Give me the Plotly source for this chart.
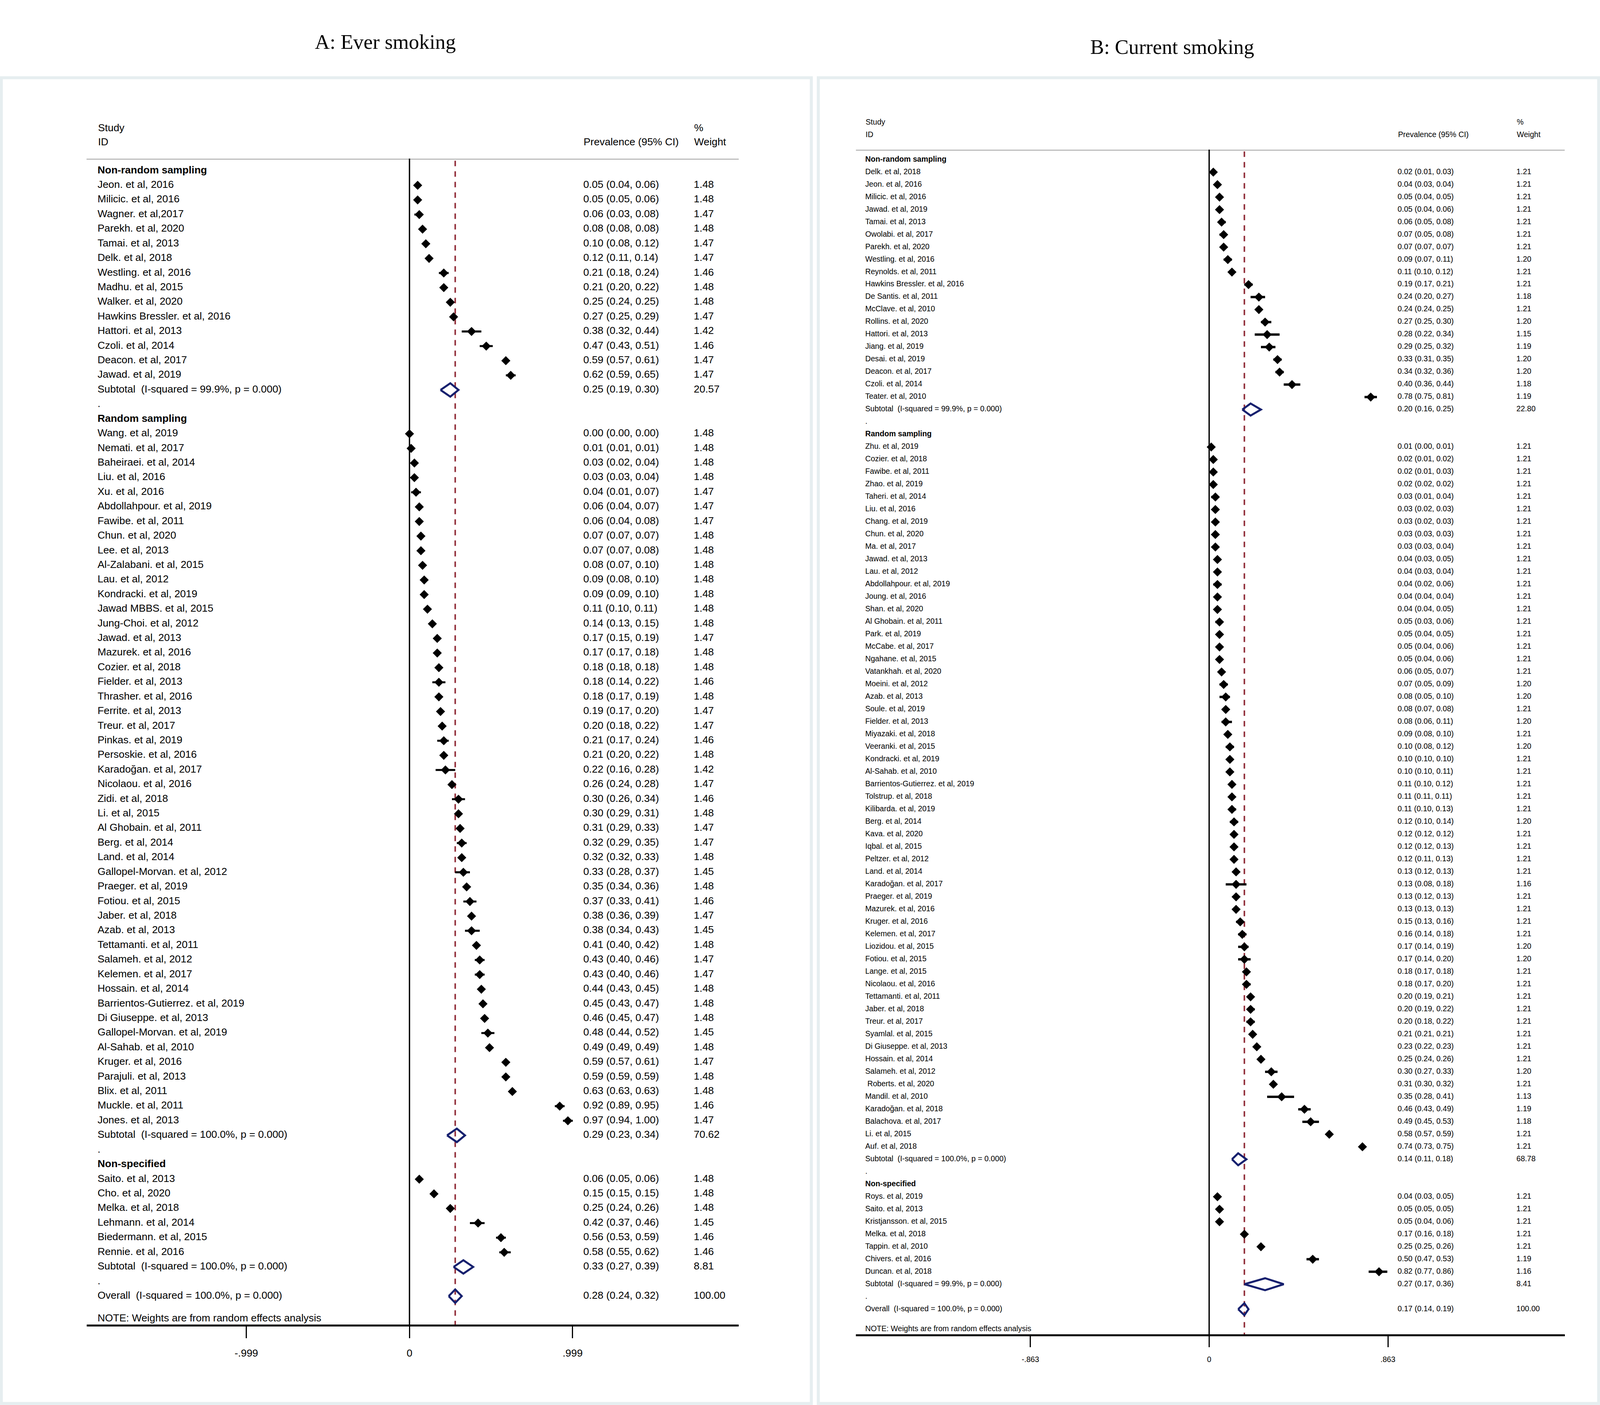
import plotly.graph_objects as go

W, H = 4806, 3597          # reference picture size (positions below are read in its pixels)
S = 4096 / W               # the page is laid out about 4096 css px wide: picture px -> css px for sizes
SANS = "Liberation Sans, Arial, Helvetica, sans-serif"
SERIF = "Liberation Serif, Times New Roman, serif"
NAVY = "#16206e"
RED = "#8f2a36"

group_titles = ["Non-random sampling", "Random sampling", "Non-specified"]

# ---------------- A: Ever smoking ----------------
a_nonrandom_study = ["Jeon. et al, 2016", "Milicic. et al, 2016", "Wagner. et al,2017", "Parekh. et al, 2020",
                     "Tamai. et al, 2013", "Delk. et al, 2018", "Westling. et al, 2016", "Madhu. et al, 2015",
                     "Walker. et al, 2020", "Hawkins Bressler. et al, 2016", "Hattori. et al, 2013",
                     "Czoli. et al, 2014", "Deacon. et al, 2017", "Jawad. et al, 2019"]
a_nonrandom_est = [0.05, 0.05, 0.06, 0.08, 0.10, 0.12, 0.21, 0.21, 0.25, 0.27, 0.38, 0.47, 0.59, 0.62]
a_nonrandom_lo = [0.04, 0.05, 0.03, 0.08, 0.08, 0.11, 0.18, 0.20, 0.24, 0.25, 0.32, 0.43, 0.57, 0.59]
a_nonrandom_hi = [0.06, 0.06, 0.08, 0.08, 0.12, 0.14, 0.24, 0.22, 0.25, 0.29, 0.44, 0.51, 0.61, 0.65]
a_nonrandom_wt = [1.48, 1.48, 1.47, 1.48, 1.47, 1.47, 1.46, 1.48, 1.48, 1.47, 1.42, 1.46, 1.47, 1.47]

a_random_study = ["Wang. et al, 2019", "Nemati. et al, 2017", "Baheiraei. et al, 2014", "Liu. et al, 2016",
                  "Xu. et al, 2016", "Abdollahpour. et al, 2019", "Fawibe. et al, 2011", "Chun. et al, 2020",
                  "Lee. et al, 2013", "Al-Zalabani. et al, 2015", "Lau. et al, 2012", "Kondracki. et al, 2019",
                  "Jawad MBBS. et al, 2015", "Jung-Choi. et al, 2012", "Jawad. et al, 2013", "Mazurek. et al, 2016",
                  "Cozier. et al, 2018", "Fielder. et al, 2013", "Thrasher. et al, 2016", "Ferrite. et al, 2013",
                  "Treur. et al, 2017", "Pinkas. et al, 2019", "Persoskie. et al, 2016", "Karadoğan. et al, 2017",
                  "Nicolaou. et al, 2016", "Zidi. et al, 2018", "Li. et al, 2015", "Al Ghobain. et al, 2011",
                  "Berg. et al, 2014", "Land. et al, 2014", "Gallopel-Morvan. et al, 2012", "Praeger. et al, 2019",
                  "Fotiou. et al, 2015", "Jaber. et al, 2018", "Azab. et al, 2013", "Tettamanti. et al, 2011",
                  "Salameh. et al, 2012", "Kelemen. et al, 2017", "Hossain. et al, 2014",
                  "Barrientos-Gutierrez. et al, 2019", "Di Giuseppe. et al, 2013", "Gallopel-Morvan. et al, 2019",
                  "Al-Sahab. et al, 2010", "Kruger. et al, 2016", "Parajuli. et al, 2013", "Blix. et al, 2011",
                  "Muckle. et al, 2011", "Jones. et al, 2013"]
a_random_est = [0.00, 0.01, 0.03, 0.03, 0.04, 0.06, 0.06, 0.07, 0.07, 0.08, 0.09, 0.09, 0.11, 0.14, 0.17, 0.17,
                0.18, 0.18, 0.18, 0.19, 0.20, 0.21, 0.21, 0.22, 0.26, 0.30, 0.30, 0.31, 0.32, 0.32, 0.33, 0.35,
                0.37, 0.38, 0.38, 0.41, 0.43, 0.43, 0.44, 0.45, 0.46, 0.48, 0.49, 0.59, 0.59, 0.63, 0.92, 0.97]
a_random_lo = [0.00, 0.01, 0.02, 0.03, 0.01, 0.04, 0.04, 0.07, 0.07, 0.07, 0.08, 0.09, 0.10, 0.13, 0.15, 0.17,
               0.18, 0.14, 0.17, 0.17, 0.18, 0.17, 0.20, 0.16, 0.24, 0.26, 0.29, 0.29, 0.29, 0.32, 0.28, 0.34,
               0.33, 0.36, 0.34, 0.40, 0.40, 0.40, 0.43, 0.43, 0.45, 0.44, 0.49, 0.57, 0.59, 0.63, 0.89, 0.94]
a_random_hi = [0.00, 0.01, 0.04, 0.04, 0.07, 0.07, 0.08, 0.07, 0.08, 0.10, 0.10, 0.10, 0.11, 0.15, 0.19, 0.18,
               0.18, 0.22, 0.19, 0.20, 0.22, 0.24, 0.22, 0.28, 0.28, 0.34, 0.31, 0.33, 0.35, 0.33, 0.37, 0.36,
               0.41, 0.39, 0.43, 0.42, 0.46, 0.46, 0.45, 0.47, 0.47, 0.52, 0.49, 0.61, 0.59, 0.63, 0.95, 1.00]
a_random_wt = [1.48, 1.48, 1.48, 1.48, 1.47, 1.47, 1.47, 1.48, 1.48, 1.48, 1.48, 1.48, 1.48, 1.48, 1.47, 1.48,
               1.48, 1.46, 1.48, 1.47, 1.47, 1.46, 1.48, 1.42, 1.47, 1.46, 1.48, 1.47, 1.47, 1.48, 1.45, 1.48,
               1.46, 1.47, 1.45, 1.48, 1.47, 1.47, 1.48, 1.48, 1.48, 1.45, 1.48, 1.47, 1.48, 1.48, 1.46, 1.47]

a_nonspec_study = ["Saito. et al, 2013", "Cho. et al, 2020", "Melka. et al, 2018", "Lehmann. et al, 2014",
                   "Biedermann. et al, 2015", "Rennie. et al, 2016"]
a_nonspec_est = [0.06, 0.15, 0.25, 0.42, 0.56, 0.58]
a_nonspec_lo = [0.05, 0.15, 0.24, 0.37, 0.53, 0.55]
a_nonspec_hi = [0.06, 0.15, 0.26, 0.46, 0.59, 0.62]
a_nonspec_wt = [1.48, 1.48, 1.48, 1.45, 1.46, 1.46]

a_sub_label = ["Subtotal  (I-squared = 99.9%, p = 0.000)", "Subtotal  (I-squared = 100.0%, p = 0.000)",
               "Subtotal  (I-squared = 100.0%, p = 0.000)"]
a_sub_est = [0.25, 0.29, 0.33]
a_sub_lo = [0.19, 0.23, 0.27]
a_sub_hi = [0.30, 0.34, 0.39]
a_sub_wt = [20.57, 70.62, 8.81]
a_overall = ["Overall  (I-squared = 100.0%, p = 0.000)", 0.28, 0.24, 0.32, 100.00]
a_ticks = [-0.999, 0, 0.999]
a_ticktext = ["-.999", "0", ".999"]

# ---------------- B: Current smoking ----------------
b_nonrandom_study = ["Delk. et al, 2018", "Jeon. et al, 2016", "Milicic. et al, 2016", "Jawad. et al, 2019",
                     "Tamai. et al, 2013", "Owolabi. et al, 2017", "Parekh. et al, 2020", "Westling. et al, 2016",
                     "Reynolds. et al, 2011", "Hawkins Bressler. et al, 2016", "De Santis. et al, 2011",
                     "McClave. et al, 2010", "Rollins. et al, 2020", "Hattori. et al, 2013", "Jiang. et al, 2019",
                     "Desai. et al, 2019", "Deacon. et al, 2017", "Czoli. et al, 2014", "Teater. et al, 2010"]
b_nonrandom_est = [0.02, 0.04, 0.05, 0.05, 0.06, 0.07, 0.07, 0.09, 0.11, 0.19, 0.24, 0.24, 0.27, 0.28, 0.29,
                   0.33, 0.34, 0.40, 0.78]
b_nonrandom_lo = [0.01, 0.03, 0.04, 0.04, 0.05, 0.05, 0.07, 0.07, 0.10, 0.17, 0.20, 0.24, 0.25, 0.22, 0.25,
                  0.31, 0.32, 0.36, 0.75]
b_nonrandom_hi = [0.03, 0.04, 0.05, 0.06, 0.08, 0.08, 0.07, 0.11, 0.12, 0.21, 0.27, 0.25, 0.30, 0.34, 0.32,
                  0.35, 0.36, 0.44, 0.81]
b_nonrandom_wt = [1.21, 1.21, 1.21, 1.21, 1.21, 1.21, 1.21, 1.20, 1.21, 1.21, 1.18, 1.21, 1.20, 1.15, 1.19,
                  1.20, 1.20, 1.18, 1.19]

b_random_study = ["Zhu. et al, 2019", "Cozier. et al, 2018", "Fawibe. et al, 2011", "Zhao. et al, 2019",
                  "Taheri. et al, 2014", "Liu. et al, 2016", "Chang. et al, 2019", "Chun. et al, 2020",
                  "Ma. et al, 2017", "Jawad. et al, 2013", "Lau. et al, 2012", "Abdollahpour. et al, 2019",
                  "Joung. et al, 2016", "Shan. et al, 2020", "Al Ghobain. et al, 2011", "Park. et al, 2019",
                  "McCabe. et al, 2017", "Ngahane. et al, 2015", "Vatankhah. et al, 2020", "Moeini. et al, 2012",
                  "Azab. et al, 2013", "Soule. et al, 2019", "Fielder. et al, 2013", "Miyazaki. et al, 2018",
                  "Veeranki. et al, 2015", "Kondracki. et al, 2019", "Al-Sahab. et al, 2010",
                  "Barrientos-Gutierrez. et al, 2019", "Tolstrup. et al, 2018", "Kilibarda. et al, 2019",
                  "Berg. et al, 2014", "Kava. et al, 2020", "Iqbal. et al, 2015", "Peltzer. et al, 2012",
                  "Land. et al, 2014", "Karadoğan. et al, 2017", "Praeger. et al, 2019", "Mazurek. et al, 2016",
                  "Kruger. et al, 2016", "Kelemen. et al, 2017", "Liozidou. et al, 2015", "Fotiou. et al, 2015",
                  "Lange. et al, 2015", "Nicolaou. et al, 2016", "Tettamanti. et al, 2011", "Jaber. et al, 2018",
                  "Treur. et al, 2017", "Syamlal. et al, 2015", "Di Giuseppe. et al, 2013", "Hossain. et al, 2014",
                  "Salameh. et al, 2012", " Roberts. et al, 2020", "Mandil. et al, 2010", "Karadoğan. et al, 2018",
                  "Balachova. et al, 2017", "Li. et al, 2015", "Auf. et al, 2018"]
b_random_est = [0.01, 0.02, 0.02, 0.02, 0.03, 0.03, 0.03, 0.03, 0.03, 0.04, 0.04, 0.04, 0.04, 0.04, 0.05, 0.05,
                0.05, 0.05, 0.06, 0.07, 0.08, 0.08, 0.08, 0.09, 0.10, 0.10, 0.10, 0.11,
                0.11, 0.11, 0.12, 0.12, 0.12, 0.12, 0.13, 0.13, 0.13, 0.13, 0.15, 0.16, 0.17, 0.17, 0.18, 0.18,
                0.20, 0.20, 0.20, 0.21, 0.23, 0.25, 0.30, 0.31, 0.35, 0.46, 0.49, 0.58, 0.74]
b_random_lo = [0.00, 0.01, 0.01, 0.02, 0.01, 0.02, 0.02, 0.03, 0.03, 0.03, 0.03, 0.02, 0.04, 0.04, 0.03, 0.04,
               0.04, 0.04, 0.05, 0.05, 0.05, 0.07, 0.06, 0.08, 0.08, 0.10, 0.10, 0.10,
               0.11, 0.10, 0.10, 0.12, 0.12, 0.11, 0.12, 0.08, 0.12, 0.13, 0.13, 0.14, 0.14, 0.14, 0.17, 0.17,
               0.19, 0.19, 0.18, 0.21, 0.22, 0.24, 0.27, 0.30, 0.28, 0.43, 0.45, 0.57, 0.73]
b_random_hi = [0.01, 0.02, 0.03, 0.02, 0.04, 0.03, 0.03, 0.03, 0.04, 0.05, 0.04, 0.06, 0.04, 0.05, 0.06, 0.05,
               0.06, 0.06, 0.07, 0.09, 0.10, 0.08, 0.11, 0.10, 0.12, 0.10, 0.11, 0.12,
               0.11, 0.13, 0.14, 0.12, 0.13, 0.13, 0.13, 0.18, 0.13, 0.13, 0.16, 0.18, 0.19, 0.20, 0.18, 0.20,
               0.21, 0.22, 0.22, 0.21, 0.23, 0.26, 0.33, 0.32, 0.41, 0.49, 0.53, 0.59, 0.75]
b_random_wt = [1.21, 1.21, 1.21, 1.21, 1.21, 1.21, 1.21, 1.21, 1.21, 1.21, 1.21, 1.21, 1.21, 1.21, 1.21, 1.21,
               1.21, 1.21, 1.21, 1.20, 1.20, 1.21, 1.20, 1.21, 1.20, 1.21, 1.21, 1.21,
               1.21, 1.21, 1.20, 1.21, 1.21, 1.21, 1.21, 1.16, 1.21, 1.21, 1.21, 1.21, 1.20, 1.20, 1.21, 1.21,
               1.21, 1.21, 1.21, 1.21, 1.21, 1.21, 1.20, 1.21, 1.13, 1.19, 1.18, 1.21, 1.21]

b_nonspec_study = ["Roys. et al, 2019", "Saito. et al, 2013", "Kristjansson. et al, 2015", "Melka. et al, 2018",
                   "Tappin. et al, 2010", "Chivers. et al, 2016", "Duncan. et al, 2018"]
b_nonspec_est = [0.04, 0.05, 0.05, 0.17, 0.25, 0.50, 0.82]
b_nonspec_lo = [0.03, 0.05, 0.04, 0.16, 0.25, 0.47, 0.77]
b_nonspec_hi = [0.05, 0.05, 0.06, 0.18, 0.26, 0.53, 0.86]
b_nonspec_wt = [1.21, 1.21, 1.21, 1.21, 1.21, 1.19, 1.16]

b_sub_label = ["Subtotal  (I-squared = 99.9%, p = 0.000)", "Subtotal  (I-squared = 100.0%, p = 0.000)",
               "Subtotal  (I-squared = 99.9%, p = 0.000)"]
b_sub_est = [0.20, 0.14, 0.27]
b_sub_lo = [0.16, 0.11, 0.17]
b_sub_hi = [0.25, 0.18, 0.36]
b_sub_wt = [22.80, 68.78, 8.41]
b_overall = ["Overall  (I-squared = 100.0%, p = 0.000)", 0.17, 0.14, 0.19, 100.00]
b_ticks = [-0.863, 0, 0.863]
b_ticktext = ["-.863", "0", ".863"]

note = "NOTE: Weights are from random effects analysis"


def px_x(p):
    return p / W


def px_y(p):
    return 1 - p / H


def add_panel(fig, k, title, groups, subs, overall, ticks, ticktext, cfg):
    xa, ya = ("x", "y") if k == 1 else (f"x{k}", f"y{k}")
    fs = cfg["font"] * S
    dx = lambda p: (p - cfg["x0px"]) / cfg["xscale"]
    dy = lambda p: (p - cfg["row0px"]) / cfg["rowpx"]

    names, names_y, heads, heads_y = [], [], [], []
    vals, wts, vals_y = [], [], []
    pt_x, pt_y, ci_x, ci_y, dia = [], [], [], [], []
    r = 0
    for gi, (names_g, est, lo, hi, wt) in enumerate(groups):
        heads.append(f"<b>{group_titles[gi]}</b>")
        heads_y.append(r)
        r += 1
        for n, e, l, h, w in zip(names_g, est, lo, hi, wt):
            names.append(n); names_y.append(r)
            vals.append(f"{e:.2f} ({l:.2f}, {h:.2f})"); wts.append(f"{w:.2f}"); vals_y.append(r)
            pt_x.append(e); pt_y.append(r)
            ci_x += [l, h, None]; ci_y += [r, r, None]
            r += 1
        s_lab, s_e, s_l, s_h, s_w = (subs[0][gi], subs[1][gi], subs[2][gi], subs[3][gi], subs[4][gi])
        names.append(s_lab); names_y.append(r)
        vals.append(f"{s_e:.2f} ({s_l:.2f}, {s_h:.2f})"); wts.append(f"{s_w:.2f}"); vals_y.append(r)
        dia.append((s_e, s_l, s_h, r))
        r += 1
        names.append("."); names_y.append(r)
        r += 1
    o_lab, o_e, o_l, o_h, o_w = overall
    names.append(o_lab); names_y.append(r)
    vals.append(f"{o_e:.2f} ({o_l:.2f}, {o_h:.2f})"); wts.append(f"{o_w:.2f}"); vals_y.append(r)
    dia.append((o_e, o_l, o_h, r))
    names.append(note); names_y.append(r + cfg["note_gap"])

    top_row = dy(cfg["top_px"])
    axis_row = dy(cfg["axis_px"])
    col_name, col_val, col_wt = dx(cfg["name_px"]), dx(cfg["val_px"]), dx(cfg["wt_px"])

    tf = dict(family=SANS, size=fs, color="black")
    fig.add_trace(go.Scatter(x=ci_x, y=ci_y, mode="lines", line=dict(color="black", width=cfg["ci_w"] * S),
                             xaxis=xa, yaxis=ya, hoverinfo="skip", showlegend=False))
    fig.add_trace(go.Scatter(x=pt_x, y=pt_y, mode="markers",
                             marker=dict(symbol="diamond", size=cfg["msize"] * S, color="black",
                                         line=dict(width=0)),
                             xaxis=xa, yaxis=ya, showlegend=False))
    hh = cfg["dia_h"]
    for e, l, h, rr in dia:
        fig.add_trace(go.Scatter(x=[l, e, h, e, l], y=[rr, rr - hh, rr, rr + hh, rr], mode="lines",
                                 line=dict(color=NAVY, width=cfg["dia_w"] * S),
                                 xaxis=xa, yaxis=ya, hoverinfo="skip", showlegend=False))
    for txts, cx, ys in [(names, col_name, names_y), (heads, col_name, heads_y),
                         (vals, col_val, vals_y), (wts, col_wt, vals_y)]:
        fig.add_trace(go.Scatter(x=[cx] * len(txts), y=ys, text=txts, mode="text",
                                 textposition="middle right", textfont=tf, xaxis=xa, yaxis=ya,
                                 cliponaxis=False, hoverinfo="skip", showlegend=False))

    # column headers (above the plotting rows, so placed on the paper)
    for txt, cx, cy in [("Study", cfg["name_px"], cfg["hdr1_px"]), ("ID", cfg["name_px"], cfg["hdr2_px"]),
                        ("Prevalence (95% CI)", cfg["val_px"], cfg["hdr2_px"]),
                        ("%", cfg["wt_px"], cfg["hdr1_px"]), ("Weight", cfg["wt_px"], cfg["hdr2_px"])]:
        fig.add_annotation(x=px_x(cx), y=px_y(cy), xref="paper", yref="paper", text=txt, showarrow=False,
                           xanchor="left", yanchor="middle", font=tf, borderpad=0)

    # reference lines
    fig.add_shape(type="line", xref=xa, yref=ya, x0=0, x1=0, y0=top_row, y1=axis_row,
                  line=dict(color="black", width=4 * S), layer="below")
    fig.add_shape(type="line", xref=xa, yref=ya, x0=o_e, x1=o_e, y0=top_row + 0.15, y1=axis_row,
                  line=dict(color=RED, width=4.5 * S, dash="%dpx,%dpx" % (round(17 * S), round(15 * S))),
                  layer="below")
    fig.add_shape(type="line", xref=f"{xa} domain", yref=ya, x0=0, x1=1, y0=top_row, y1=top_row,
                  line=dict(color="#bdbdbd", width=7 * S), layer="below")

    # panel frame and title
    fig.add_shape(type="rect", xref="paper", yref="paper",
                  x0=px_x(cfg["frame"][0]), x1=px_x(cfg["frame"][1]),
                  y0=px_y(cfg["frame"][3]), y1=px_y(cfg["frame"][2]),
                  line=dict(color="#e6eef0", width=9 * S), layer="below")
    fig.add_annotation(x=px_x(cfg["title_xy"][0]), y=px_y(cfg["title_xy"][1]), xref="paper", yref="paper",
                       text=title, showarrow=False, xanchor="center", yanchor="middle",
                       font=dict(family=SERIF, size=cfg["title_size"] * S, color="black"))

    axis_common = dict(showgrid=False, zeroline=False, fixedrange=True)
    fig.update_layout(**{
        ("xaxis" if k == 1 else f"xaxis{k}"): dict(
            domain=[px_x(cfg["left_px"]), px_x(cfg["right_px"])],
            range=[dx(cfg["left_px"]), dx(cfg["right_px"])],
            anchor=ya, showline=True, linecolor="black", linewidth=6 * S,
            ticks="outside", tickvals=ticks, ticktext=ticktext, ticklen=cfg["ticklen"] * S,
            tickwidth=4 * S, tickcolor="black", tickfont=tf,
            ticklabelstandoff=int(round(cfg["standoff"] * S)), **axis_common),
        ("yaxis" if k == 1 else f"yaxis{k}"): dict(
            domain=[px_y(cfg["axis_px"]), px_y(cfg["top_px"])],
            range=[axis_row, top_row], anchor=xa, visible=False, **axis_common),
    })


fig = go.Figure()

cfg_a = dict(font=31, x0px=1230, xscale=490.5, row0px=437, rowpx=37.42, top_px=406, axis_px=3391,
             left_px=260, right_px=2219, name_px=293, val_px=1752, wt_px=2084, hdr1_px=327, hdr2_px=363,
             note_gap=1.55, ci_w=6, msize=21, dia_h=0.46, dia_w=6, ticklen=35, standoff=18,
             frame=(4, 2437, 199, 3593), title_xy=(1157, 107), title_size=62)
cfg_b = dict(font=23, x0px=3632, xscale=622.2, row0px=408.7, rowpx=31.99, top_px=383, axis_px=3416,
             left_px=2571, right_px=4700, name_px=2599, val_px=4198, wt_px=4555, hdr1_px=312, hdr2_px=344,
             note_gap=1.6, ci_w=7, msize=21, dia_h=0.48, dia_w=6, ticklen=33, standoff=16,
             frame=(2458, 4802, 199, 3593), title_xy=(3521, 120), title_size=62)

add_panel(fig, 1, "A: Ever smoking",
          [(a_nonrandom_study, a_nonrandom_est, a_nonrandom_lo, a_nonrandom_hi, a_nonrandom_wt),
           (a_random_study, a_random_est, a_random_lo, a_random_hi, a_random_wt),
           (a_nonspec_study, a_nonspec_est, a_nonspec_lo, a_nonspec_hi, a_nonspec_wt)],
          (a_sub_label, a_sub_est, a_sub_lo, a_sub_hi, a_sub_wt), a_overall, a_ticks, a_ticktext, cfg_a)
add_panel(fig, 2, "B: Current smoking",
          [(b_nonrandom_study, b_nonrandom_est, b_nonrandom_lo, b_nonrandom_hi, b_nonrandom_wt),
           (b_random_study, b_random_est, b_random_lo, b_random_hi, b_random_wt),
           (b_nonspec_study, b_nonspec_est, b_nonspec_lo, b_nonspec_hi, b_nonspec_wt)],
          (b_sub_label, b_sub_est, b_sub_lo, b_sub_hi, b_sub_wt), b_overall, b_ticks, b_ticktext, cfg_b)

fig.update_layout(autosize=True, margin=dict(l=0, r=0, t=0, b=0), paper_bgcolor="white",
                  plot_bgcolor="white", showlegend=False)

# fill the whole browser window
fit = """
document.documentElement.style.margin='0';
document.body.style.margin='0';
document.body.style.overflow='hidden';
var gd = document.getElementById('{plot_id}');
Plotly.relayout(gd, {width: window.innerWidth, height: window.innerHeight});
"""
fig.write_html("out.html", config={"displayModeBar": False}, default_width="100%", default_height="100%",
               post_script=fit)
